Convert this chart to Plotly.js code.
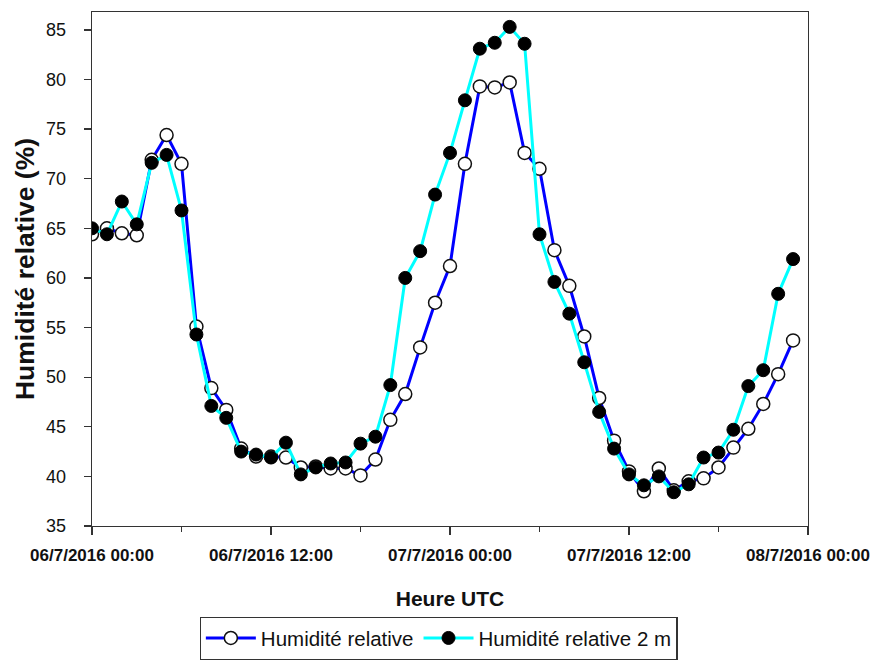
<!DOCTYPE html>
<html>
<head>
<meta charset="utf-8">
<script src="https://cdn.plot.ly/plotly-3.0.1.min.js"></script>
<style>html,body{margin:0;padding:0;background:#fff;}#chart{width:875px;height:669px;}</style>
</head>
<body>
<div id="chart"></div>
<script>
const times = [
  "2016-07-06 00:00","2016-07-06 01:00","2016-07-06 02:00","2016-07-06 03:00","2016-07-06 04:00","2016-07-06 05:00",
  "2016-07-06 06:00","2016-07-06 07:00","2016-07-06 08:00","2016-07-06 09:00","2016-07-06 10:00","2016-07-06 11:00",
  "2016-07-06 12:00","2016-07-06 13:00","2016-07-06 14:00","2016-07-06 15:00","2016-07-06 16:00","2016-07-06 17:00",
  "2016-07-06 18:00","2016-07-06 19:00","2016-07-06 20:00","2016-07-06 21:00","2016-07-06 22:00","2016-07-06 23:00",
  "2016-07-07 00:00","2016-07-07 01:00","2016-07-07 02:00","2016-07-07 03:00","2016-07-07 04:00","2016-07-07 05:00",
  "2016-07-07 06:00","2016-07-07 07:00","2016-07-07 08:00","2016-07-07 09:00","2016-07-07 10:00","2016-07-07 11:00",
  "2016-07-07 12:00","2016-07-07 13:00","2016-07-07 14:00","2016-07-07 15:00","2016-07-07 16:00","2016-07-07 17:00",
  "2016-07-07 18:00","2016-07-07 19:00","2016-07-07 20:00","2016-07-07 21:00","2016-07-07 22:00","2016-07-07 23:00"
];
const humRel = [
  64.4, 65.0, 64.5, 64.3, 71.9, 74.4, 71.5, 55.1, 48.9, 46.7, 42.8, 42.0,
  42.0, 41.9, 40.9, 41.0, 40.8, 40.8, 40.1, 41.7, 45.7, 48.3, 53.0, 57.5,
  61.2, 71.5, 79.3, 79.2, 79.7, 72.6, 71.0, 62.8, 59.2, 54.1, 47.9, 43.6,
  40.5, 38.5, 40.8, 38.6, 39.5, 39.8, 40.9, 42.9, 44.8, 47.3, 50.3, 53.7
];
const humRel2m = [
  65.0, 64.4, 67.7, 65.4, 71.6, 72.4, 66.8, 54.3, 47.1, 45.9, 42.5, 42.2,
  41.9, 43.4, 40.2, 40.9, 41.3, 41.4, 43.3, 44.0, 49.2, 60.0, 62.7, 68.4,
  72.6, 77.9, 83.1, 83.7, 85.3, 83.6, 64.4, 59.6, 56.4, 51.5, 46.5, 42.8,
  40.2, 39.1, 40.0, 38.4, 39.2, 41.9, 42.4, 44.7, 49.1, 50.7, 58.4, 61.9
];
const seriesNames = ["Humidité relative", "Humidité relative 2 m"];
const xTickVals = ["2016-07-06 00:00","2016-07-06 12:00","2016-07-07 00:00","2016-07-07 12:00","2016-07-08 00:00"];
const xTickText = ["06/7/2016 00:00","06/7/2016 12:00","07/7/2016 00:00","07/7/2016 12:00","08/7/2016 00:00"];

const FONT = "Liberation Sans, Arial, Helvetica, sans-serif";
const traces = [
  {
    x: times, y: humRel, name: seriesNames[0], type: "scatter", mode: "lines+markers",
    line: {color: "#0000ff", width: 3},
    marker: {symbol: "circle", size: 13, color: "#ffffff", line: {color: "#111111", width: 1.5}}
  },
  {
    x: times, y: humRel2m, name: seriesNames[1], type: "scatter", mode: "lines+markers",
    line: {color: "#00ffff", width: 3},
    marker: {symbol: "circle", size: 13, color: "#000000", line: {color: "#000000", width: 1}}
  }
];
const layout = {
  width: 875, height: 669,
  margin: {l: 92, r: 67, t: 12, b: 143},
  paper_bgcolor: "#ffffff", plot_bgcolor: "#ffffff",
  font: {family: FONT, color: "#111111"},
  showlegend: true,
  xaxis: {
    type: "date",
    range: ["2016-07-06 00:00", "2016-07-08 00:00"],
    tickmode: "array", tickvals: xTickVals, ticktext: xTickText,
    ticks: "outside", ticklen: 8, tickwidth: 1.3, tickcolor: "#333333",
    ticklabelstandoff: 5,
    tickfont: {family: FONT, size: 17, weight: "bold", color: "#111111"},
    minor: {tickmode: "linear", tick0: "2016-07-06 00:00", dtick: 6 * 3600 * 1000, ticks: "outside", ticklen: 5, tickwidth: 1.2, tickcolor: "#333333", showgrid: false},
    showline: true, mirror: true, linecolor: "#333333", linewidth: 1.3,
    showgrid: false, zeroline: false,
    title: {text: "Heure UTC", font: {family: FONT, size: 21, weight: "bold", color: "#111111"}, standoff: 27}
  },
  yaxis: {
    range: [35, 86.8],
    tickmode: "linear", tick0: 35, dtick: 5,
    ticks: "outside", ticklen: 7, tickwidth: 1.3, tickcolor: "#333333",
    ticklabelstandoff: 14,
    tickfont: {family: FONT, size: 18, color: "#111111"},
    showline: true, mirror: true, linecolor: "#333333", linewidth: 1.3,
    showgrid: false, zeroline: false,
    title: {text: "Humidité relative (%)", font: {family: FONT, size: 26.5, weight: "bold", color: "#111111"}, standoff: 3}
  },
  legend: {
    orientation: "h", x: 0.484, xanchor: "center",
    yref: "container", y: 0.078, yanchor: "top",
    bordercolor: "#333333", borderwidth: 1.3, bgcolor: "#ffffff",
    font: {family: FONT, size: 20.5, color: "#111111"},
    itemwidth: 50, traceorder: "normal"
  }
};
Plotly.newPlot("chart", traces, layout, {displayModeBar: false, staticPlot: true});
</script>
</body>
</html>
